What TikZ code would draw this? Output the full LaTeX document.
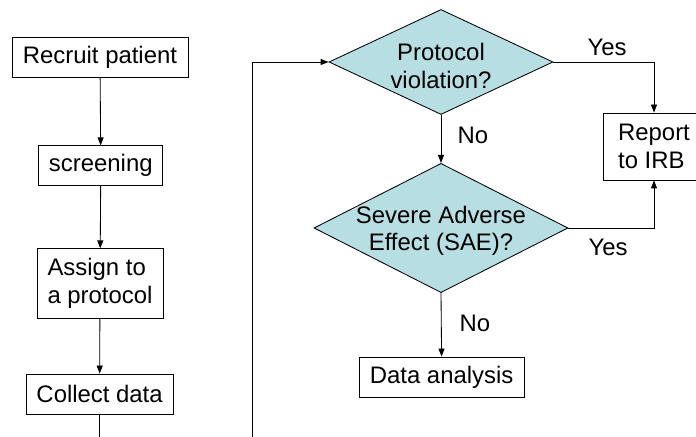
\documentclass[tikz,border=0pt]{standalone}
\usepackage{fontspec}
\setmainfont{Liberation Sans}
\usetikzlibrary{arrows.meta}
\usetikzlibrary{shapes.geometric}

\definecolor{azulclaro}{RGB}{183,222,226}

\begin{document}
\begin{tikzpicture}[>={Triangle[length=2mm,width=1.5mm]}, line width=0.6pt,
    every node/.style={font=\fontsize{17}{19.5}\selectfont},
    caixa/.style={draw, inner sep=0pt, align=left},
    losango/.style={draw, diamond, fill=azulclaro, inner sep=0pt}]

\useasboundingbox (0,0) rectangle (17.4,10.925);

% coluna da esquerda
\node[caixa, minimum width=4.4cm, minimum height=1cm] (recruit) at (2.5,9.5) {Recruit patient};
\node[caixa, minimum width=3.1cm, minimum height=0.98cm] (screen) at (2.52,6.79) {screening};
\node[caixa, minimum width=3.15cm, minimum height=1.73cm] (assign) at (2.5,3.84) {Assign to\\a protocol};
\node[caixa, minimum width=3.68cm, minimum height=1cm] (collect) at (2.49,1.075) {Collect data};
\coordinate (fim) at (2.49,0);

\draw[->] (recruit) -- (screen);
\draw[->] (screen) -- (assign);
\draw[->] (assign) -- (collect);
\draw (collect) -- (fim);

% decisoes
\node[losango, minimum width=5.6cm, minimum height=2.625cm,
      label={[align=center,yshift=-0.1cm]center:Protocol\\violation?}] (violation) at (11.025,9.375) {};
\node[losango, minimum width=6.35cm, minimum height=3.23cm,
      label={[align=center,yshift=-0.07cm]center:Severe Adverse\\Effect (SAE)?}] (sae) at (11.025,5.225) {};
\node[caixa, minimum width=2.55cm, minimum height=1.675cm] (report) at (16.35,7.2625) {Report\\to IRB};
\node[caixa, minimum width=4.125cm, minimum height=1cm] (analysis) at (11.04,1.5) {Data analysis};

% laco de volta
\coordinate (volta) at (6.3,0);
\draw[->] (volta) |- (violation.west);

% setas
\draw[->] (violation.east) -| (report.north);
\draw[->] (sae.east) -| (report.south);
\draw[->] (violation.south) -- (sae.north);
\draw[->] (sae.south) -- (analysis.north);

% rotulos
\node (yes1) at (15.175,9.75) {Yes};
\node (yes2) at (15.2,4.75) {Yes};
\node (no1) at (11.825,7.55) {No};
\node (no2) at (11.875,2.85) {No};

\end{tikzpicture}
\end{document}
